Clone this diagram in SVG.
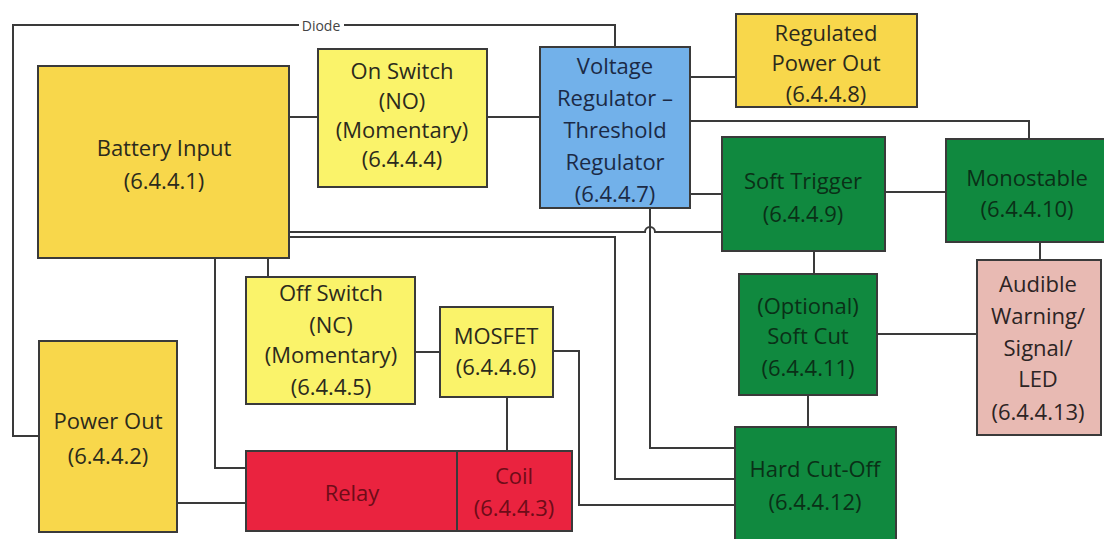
<svg xmlns="http://www.w3.org/2000/svg" width="1104" height="539" viewBox="0 0 1104 539">
<style>
  .box{stroke:#3a3a3a;stroke-width:2}
  .gold{fill:#f8d74b}
  .lemon{fill:#faf36a}
  .blue{fill:#72b1ea}
  .green{fill:#10893f}
  .red{fill:#ea233f}
  .pink{fill:#e8bab3}
  text{font-family:"Open Sans","Liberation Sans",sans-serif;font-size:22px;text-anchor:middle;dominant-baseline:central}
  .t-dark{fill:#2b2a1c}
  .t-blue{fill:#1b2a46}
  .t-green{fill:#0a3017}
  .t-red{fill:#6e0c18}
  .t-pink{fill:#2c2424}
  .wire{fill:none;stroke:#3a3a3a;stroke-width:2}
  .lbl{font-size:14px;fill:#444}
</style>
<rect width="1104" height="539" fill="#ffffff"/>
<g id="connectors">
  <path class="wire" d="M615 47 V25 H13 V436 H39"/>
  <path class="wire" d="M289 117 H318"/>
  <path class="wire" d="M487 117 H540"/>
  <path class="wire" d="M690 77 H736"/>
  <path class="wire" d="M690 121 H1029 V139"/>
  <path class="wire" d="M690 194 H722"/>
  <path class="wire" d="M885 192 H946"/>
  <path class="wire" d="M1040 242 V260"/>
  <path class="wire" d="M814 251 V274"/>
  <path class="wire" d="M877 334 H977"/>
  <path class="wire" d="M808 395 V427"/>
  <path class="wire" d="M289 232 H645 A5 5 0 0 1 655 232 H722"/>
  <path class="wire" d="M289 237 H615 V479 H735"/>
  <path class="wire" d="M650 208 V448 H735"/>
  <path class="wire" d="M215 258 V468 H246"/>
  <path class="wire" d="M268 258 V277"/>
  <path class="wire" d="M415 352 H440"/>
  <path class="wire" d="M507 397 V451"/>
  <path class="wire" d="M553 351 H579 V505 H735"/>
  <path class="wire" d="M177 503 H246"/>
  <rect x="299" y="17" width="45" height="16" fill="#ffffff"/>
  <text class="lbl" x="321" y="25">Diode</text>
</g>
<g id="battery">
  <rect class="box gold" x="38" y="66" width="251" height="192"/>
  <text class="t-dark" x="164" y="147">Battery Input</text>
  <text class="t-dark" x="164" y="180">(6.4.4.1)</text>
</g>
<g id="on-switch">
  <rect class="box lemon" x="318" y="49" width="169" height="138"/>
  <text class="t-dark" x="402" y="70">On Switch</text>
  <text class="t-dark" x="402" y="100">(NO)</text>
  <text class="t-dark" x="402" y="129">(Momentary)</text>
  <text class="t-dark" x="402" y="158">(6.4.4.4)</text>
</g>
<g id="voltage-regulator">
  <rect class="box blue" x="540" y="47" width="150" height="161"/>
  <text class="t-blue" x="615" y="65">Voltage</text>
  <text class="t-blue" x="615" y="97">Regulator –</text>
  <text class="t-blue" x="615" y="129">Threshold</text>
  <text class="t-blue" x="615" y="161">Regulator</text>
  <text class="t-blue" x="615" y="193">(6.4.4.7)</text>
</g>
<g id="regulated-power-out">
  <rect class="box gold" x="736" y="14" width="181" height="93"/>
  <text class="t-dark" x="826" y="32">Regulated</text>
  <text class="t-dark" x="826" y="62">Power Out</text>
  <text class="t-dark" x="826" y="93">(6.4.4.8)</text>
</g>
<g id="soft-trigger">
  <rect class="box green" x="722" y="137" width="163" height="114"/>
  <text class="t-green" x="803" y="180">Soft Trigger</text>
  <text class="t-green" x="803" y="213">(6.4.4.9)</text>
</g>
<g id="monostable">
  <rect class="box green" x="946" y="139" width="170" height="103"/>
  <text class="t-green" x="1027" y="177">Monostable</text>
  <text class="t-green" x="1027" y="208">(6.4.4.10)</text>
</g>
<g id="audible-warning">
  <rect class="box pink" x="977" y="260" width="124" height="175"/>
  <text class="t-pink" x="1038" y="283">Audible</text>
  <text class="t-pink" x="1038" y="315">Warning/</text>
  <text class="t-pink" x="1038" y="347">Signal/</text>
  <text class="t-pink" x="1038" y="378">LED</text>
  <text class="t-pink" x="1038" y="411">(6.4.4.13)</text>
</g>
<g id="soft-cut">
  <rect class="box green" x="739" y="274" width="138" height="121"/>
  <text class="t-green" x="808" y="305">(Optional)</text>
  <text class="t-green" x="808" y="335">Soft Cut</text>
  <text class="t-green" x="808" y="367">(6.4.4.11)</text>
</g>
<g id="hard-cut-off">
  <rect class="box green" x="735" y="427" width="161" height="120"/>
  <text class="t-green" x="815" y="468">Hard Cut-Off</text>
  <text class="t-green" x="815" y="501">(6.4.4.12)</text>
</g>
<g id="off-switch">
  <rect class="box lemon" x="246" y="277" width="169" height="127"/>
  <text class="t-dark" x="331" y="292">Off Switch</text>
  <text class="t-dark" x="331" y="324">(NC)</text>
  <text class="t-dark" x="331" y="354">(Momentary)</text>
  <text class="t-dark" x="331" y="386">(6.4.4.5)</text>
</g>
<g id="mosfet">
  <rect class="box lemon" x="440" y="307" width="113" height="90"/>
  <text class="t-dark" x="496" y="335">MOSFET</text>
  <text class="t-dark" x="496" y="366">(6.4.4.6)</text>
</g>
<g id="power-out">
  <rect class="box gold" x="39" y="341" width="138" height="191"/>
  <text class="t-dark" x="108" y="420">Power Out</text>
  <text class="t-dark" x="108" y="455">(6.4.4.2)</text>
</g>
<g id="relay">
  <rect class="box red" x="246" y="451" width="211" height="80"/>
  <text class="t-red" x="352" y="492">Relay</text>
</g>
<g id="coil">
  <rect class="box red" x="457" y="451" width="115" height="80"/>
  <text class="t-red" x="514" y="475">Coil</text>
  <text class="t-red" x="514" y="507">(6.4.4.3)</text>
</g>
</svg>
